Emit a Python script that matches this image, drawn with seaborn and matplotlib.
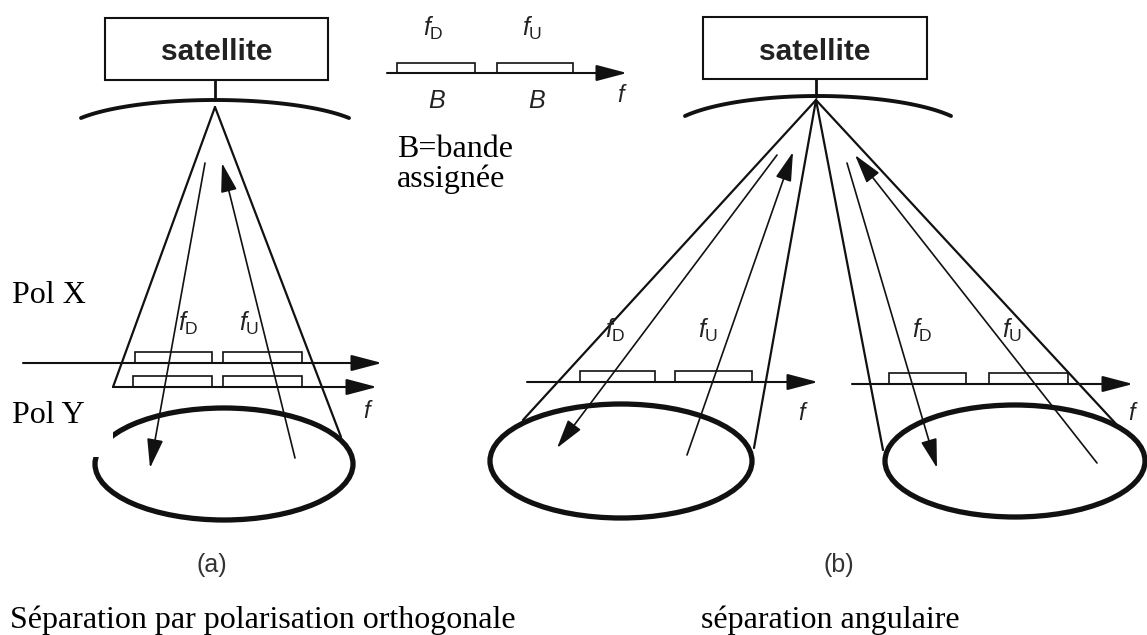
import numpy as np
import pandas as pd
import matplotlib
matplotlib.use("Agg")
import matplotlib.pyplot as plt
from matplotlib.patches import Rectangle, Ellipse, FancyArrowPatch
import seaborn as sns

# ---------------- content ----------------
SATELLITE_LABEL = "satellite"
PANEL_LABELS = ["(a)", "(b)"]
CAPTIONS = ["Séparation par polarisation orthogonale", "séparation angulaire"]
POL_LABELS = ["Pol X", "Pol Y"]
LEGEND_LINES = ["B=bande", "assignée"]
BAND_NAMES = ["D", "U"]
BAND_SYMBOL = "B"
AXIS_SYMBOL = "f"

# ---------------- geometry (pixel units of the 1147x635 canvas) ----------------
SAT_BOXES = [(105, 18, 328, 80), (703, 17, 927, 79)]          # x0, y0, x1, y1
SAT_TEXT = [(217, 60), (815, 60)]
STEMS = [(215, 80, 100), (816, 79, 97)]                       # x, y0, y1
ARCS = [(215, 100, 134, 18), (818, 96, 133, 20)]              # cx, top, half span, drop

CONE_LINES = [  # (x0, y0, x1, y1)
    (215, 107, 113, 387), (215, 107, 341, 437),
    (816, 100, 523, 420), (816, 100, 754, 448),
    (816, 100, 883, 450), (816, 100, 1117, 425),
]
SIGNAL_ARROWS = [  # tail -> head
    (205, 163, 150, 468), (295, 458, 222, 163),
    (777, 155, 557, 448), (687, 455, 793, 152),
    (847, 163, 937, 468), (1097, 463, 855, 155),
]
FREQ_AXES = [  # x0, x1, y, [(rect x0, x1)], rect height
    (387, 627, 73, [(397, 475), (497, 573)], 10),
    (23, 382, 363, [(135, 212), (223, 302)], 11),
    (113, 377, 387, [(133, 212), (223, 302)], 11),
    (527, 818, 382, [(580, 655), (675, 752)], 11),
    (852, 1133, 384, [(889, 966), (989, 1068)], 11),
]
AXIS_LABEL_POS = [(617, 102), (363, 418), (798, 420), (1128, 420)]
BAND_LABEL_POS = [
    [(423, 36), (522, 36)],
    [(178, 331), (239, 331)],
    [(605, 338), (698, 338)],
    [(912, 338), (1002, 338)],
]
B_LABEL_POS = [(437, 108), (537, 108)]
ELLIPSES = [(224, 464, 258, 112), (621, 461, 262, 114), (1015, 461, 260, 112)]
MASK = (0, 389, 113, 457)
POL_POS = [(12, 303), (12, 423)]
LEGEND_POS = [(397, 157), (397, 187)]
PANEL_POS = [(212, 565), (839, 565)]
CAPTION_POS = [(10, 628), (701, 628)]

# ---------------- style ----------------
sns.set_theme(style="white")
plt.rcParams["font.family"] = ["Liberation Sans", "DejaVu Sans"]
plt.rcParams["mathtext.fontset"] = "custom"
plt.rcParams["mathtext.rm"] = "Liberation Sans"
plt.rcParams["mathtext.it"] = "Liberation Sans:italic"
plt.rcParams["mathtext.bf"] = "Liberation Sans:bold"

W, H = 1147, 635
fig = plt.figure(figsize=(W / 100, H / 100), dpi=100)
ax = fig.add_axes([0, 0, 1, 1])

INK = "#111111"
SERIF = ["Liberation Serif", "DejaVu Serif"]

# cone lines through seaborn
rows = []
for i, (x0, y0, x1, y1) in enumerate(CONE_LINES):
    rows.append({"line": i, "x": x0, "y": y0})
    rows.append({"line": i, "x": x1, "y": y1})
cone_df = pd.DataFrame(rows)
sns.lineplot(data=cone_df, x="x", y="y", units="line", estimator=None,
             sort=False, color=INK, lw=1.6, ax=ax, legend=False)

# satellite boxes, stems, antenna arcs
for (x0, y0, x1, y1), (tx, ty) in zip(SAT_BOXES, SAT_TEXT):
    ax.add_patch(Rectangle((x0, y0), x1 - x0, y1 - y0, fill=False,
                           ec=INK, lw=1.5, zorder=3))
    ax.text(tx, ty, SATELLITE_LABEL, ha="center", va="baseline",
            fontsize=21.5, fontweight="bold", color="#222222", zorder=4)
for x, y0, y1 in STEMS:
    ax.plot([x, x], [y0, y1], color=INK, lw=2.0, zorder=3)
for cx, top, half, drop in ARCS:
    a = half * 1.15
    tmax = np.arcsin(half / a)
    t = np.linspace(-tmax, tmax, 100)
    b = drop / (1 - np.cos(tmax))
    ax.plot(cx + a * np.sin(t), top + b * (1 - np.cos(t)), color=INK,
            lw=2.8, solid_capstyle="round", zorder=3)

# signal arrows
for x0, y0, x1, y1 in SIGNAL_ARROWS:
    ax.add_patch(FancyArrowPatch((x0, y0), (x1, y1),
                                 arrowstyle="-|>,head_length=1.8,head_width=0.5",
                                 mutation_scale=10, shrinkA=0, shrinkB=0,
                                 color=INK, lw=1.2, zorder=3))

# ground ellipses
for cx, cy, w, h in ELLIPSES:
    ax.add_patch(Ellipse((cx, cy), w, h, fill=False, ec=INK, lw=3.8, zorder=3))

# white mask (as in the original)
mx0, my0, mx1, my1 = MASK
ax.add_patch(Rectangle((mx0, my0), mx1 - mx0, my1 - my0, fc="white",
                       ec="none", zorder=5))

# frequency axes with band rectangles
for x0, x1, y, rects, rh in FREQ_AXES:
    ax.add_patch(FancyArrowPatch((x0, y), (x1, y),
                                 arrowstyle="-|>,head_length=1.9,head_width=0.5",
                                 mutation_scale=10, shrinkA=0, shrinkB=0,
                                 color=INK, lw=1.5, zorder=4))
    for rx0, rx1 in rects:
        ax.add_patch(Rectangle((rx0, y - rh), rx1 - rx0, rh, fill=False,
                               ec=INK, lw=1.2, zorder=4))

# labels
for x, y in AXIS_LABEL_POS:
    ax.text(x, y, AXIS_SYMBOL, ha="left", va="baseline", fontsize=17,
            fontstyle="italic", color="#222222", zorder=6)
for group in BAND_LABEL_POS:
    for (x, y), name in zip(group, BAND_NAMES):
        ax.text(x, y, r"$f_{\mathrm{%s}}$" % name, ha="left", va="baseline",
                fontsize=18, color="#222222", zorder=6)
for x, y in B_LABEL_POS:
    ax.text(x, y, BAND_SYMBOL, ha="center", va="baseline", fontsize=18,
            fontstyle="italic", color="#222222", zorder=6)

for (x, y), s in zip(POL_POS, POL_LABELS):
    ax.text(x, y, s, ha="left", va="baseline", fontsize=23,
            family=SERIF, color="black", zorder=6)
for (x, y), s in zip(LEGEND_POS, LEGEND_LINES):
    ax.text(x, y, s, ha="left", va="baseline", fontsize=23,
            family=SERIF, color="black", zorder=6)
for (x, y), s in zip(CAPTION_POS, CAPTIONS):
    ax.text(x, y, s, ha="left", va="baseline", fontsize=23,
            family=SERIF, color="black", zorder=6)
for (x, y), s in zip(PANEL_POS, PANEL_LABELS):
    ax.text(x, y, s, ha="center", va="center", fontsize=18,
            color="#333333", zorder=6)

ax.set_xlim(0, W)
ax.set_ylim(H, 0)
ax.set_axis_off()
fig.savefig("out.png", dpi=100, facecolor="white")
